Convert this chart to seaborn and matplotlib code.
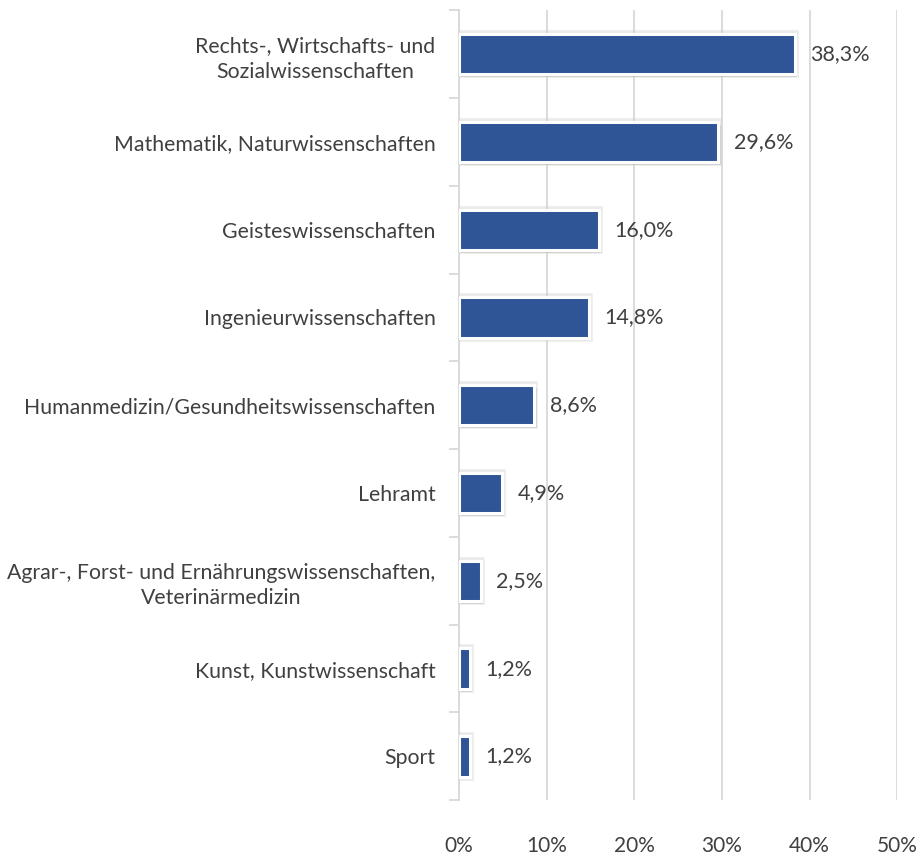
import numpy as np
import pandas as pd
import matplotlib
matplotlib.use('Agg')
import matplotlib.pyplot as plt
import matplotlib.patheffects as pe
from matplotlib.ticker import FixedLocator
import seaborn as sns

sns.set_style('white')
plt.rcParams['font.family'] = ['Lato', 'DejaVu Sans']

# Data
categories = [
    "Rechts-, Wirtschafts- und\nSozialwissenschaften",
    "Mathematik, Naturwissenschaften",
    "Geisteswissenschaften",
    "Ingenieurwissenschaften",
    "Humanmedizin/Gesundheitswissenschaften",
    "Lehramt",
    "Agrar-, Forst- und Ernährungswissenschaften,\nVeterinärmedizin",
    "Kunst, Kunstwissenschaft",
    "Sport",
]
shares = [38.3, 29.6, 16.0, 14.8, 8.6, 4.9, 2.5, 1.2, 1.2]
x_ticks = [0, 10, 20, 30, 40, 50]

df = pd.DataFrame({'Fach': categories, 'Anteil': shares})

text_col = '#404040'
bar_col = '#2F5597'
grid_col = '#D9D9D9'

fig = plt.figure(figsize=(9.22, 8.55), dpi=100)
ax = fig.add_axes([0.498, 0.064, 0.475, 0.924])

sns.barplot(data=df, x='Anteil', y='Fach', color=bar_col, width=0.46,
            edgecolor='white', linewidth=2.2, saturation=1, ax=ax, zorder=3)

# white frame + soft grey shadow like the original
for p in ax.patches:
    p.set_path_effects([pe.Stroke(linewidth=5.5, foreground='#c8c8c8', alpha=0.35),
                        pe.SimplePatchShadow(offset=(1.5, -2), shadow_rgbFace='#999999', alpha=0.3),
                        pe.Normal()])

# value labels
for i, v in enumerate(shares):
    ax.annotate(f"{v:.1f}%".replace('.', ','), (v, i), xytext=(11, 0), textcoords='offset points',
                ha='left', va='center', fontsize=15.5, color=text_col)

ax.set_xlim(0, 50)
ax.set_ylim(len(categories) - 0.5, -0.5)
ax.set_xticks(x_ticks)
ax.set_xticklabels([f"{t}%" for t in x_ticks], fontsize=15, color=text_col)
ax.xaxis.grid(True, color=grid_col, linewidth=1.3, zorder=0)
ax.tick_params(axis='x', length=0, pad=26)

ax.set_yticks(range(len(categories)))
ax.set_yticklabels(categories, fontsize=15.3, color=text_col, multialignment='center', linespacing=1.35)
ax.tick_params(axis='y', which='major', length=0, pad=17)
ax.yaxis.set_minor_locator(FixedLocator(np.arange(-0.5, len(categories), 1)))
ax.tick_params(axis='y', which='minor', left=True, length=7, color=grid_col, width=1.3)

ax.set_xlabel('')
ax.set_ylabel('')
for s in ['top', 'right', 'bottom']:
    ax.spines[s].set_visible(False)
ax.spines['left'].set_color(grid_col)
ax.spines['left'].set_linewidth(1.3)

fig.savefig('out.png', dpi=100)
